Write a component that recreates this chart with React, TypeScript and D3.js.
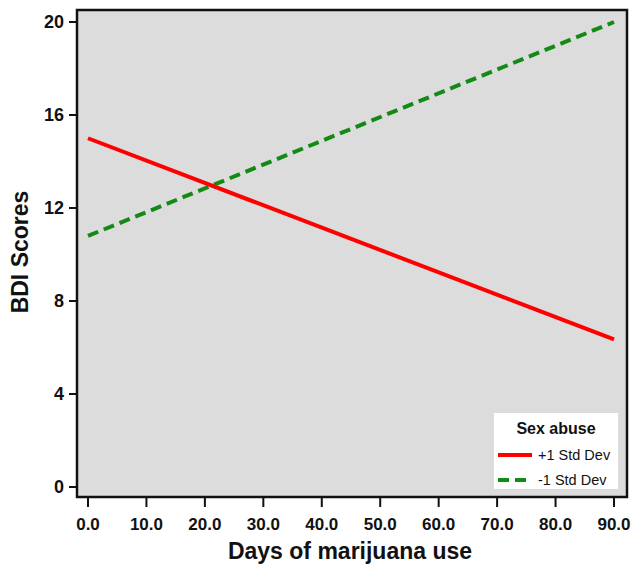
import React, { useRef, useEffect } from 'react';
import * as d3 from 'd3';

// days of marijuana use at the two ends of each fitted line
const days = [0, 90];
const plusOneSD = [15.0, 6.35];
const minusOneSD = [10.8, 20.0];
const seriesNames = ['+1 Std Dev', '-1 Std Dev'];
const xTicks = [0, 10, 20, 30, 40, 50, 60, 70, 80, 90];
const yTicks = [0, 4, 8, 12, 16, 20];

const App = () => {
  const ref = useRef<SVGSVGElement | null>(null);

  useEffect(() => {
    const svg = d3.select(ref.current);
    svg.selectAll('*').remove();
    const font = 'Liberation Sans, Arial, sans-serif';

    const x = d3.scaleLinear().domain([0, 90]).range([88, 614]);
    const y = d3.scaleLinear().domain([0, 20]).range([487, 22]);

    // plot area
    svg.append('rect')
      .attr('x', 77).attr('y', 10).attr('width', 550).attr('height', 487)
      .attr('fill', '#dcdcdc').attr('stroke', '#111').attr('stroke-width', 2.5);

    // y axis ticks + labels
    const yg = svg.append('g').attr('font-family', font);
    yTicks.forEach(t => {
      yg.append('line').attr('x1', 69).attr('x2', 77).attr('y1', y(t)).attr('y2', y(t))
        .attr('stroke', '#111').attr('stroke-width', 2);
      yg.append('text').attr('x', 64).attr('y', y(t)).attr('dy', '0.35em')
        .attr('text-anchor', 'end').attr('font-size', 18).attr('font-weight', 'bold')
        .attr('fill', '#111').text(t);
    });

    // x axis ticks + labels
    const xg = svg.append('g').attr('font-family', font);
    xTicks.forEach(t => {
      xg.append('line').attr('x1', x(t)).attr('x2', x(t)).attr('y1', 497).attr('y2', 507)
        .attr('stroke', '#111').attr('stroke-width', 2);
      xg.append('text').attr('x', x(t)).attr('y', 530)
        .attr('text-anchor', 'middle').attr('font-size', 17).attr('font-weight', 'bold')
        .attr('fill', '#111').text(d3.format('.1f')(t));
    });

    svg.append('text').attr('x', 350).attr('y', 559).attr('text-anchor', 'middle')
      .attr('font-family', font).attr('font-size', 23).attr('font-weight', 'bold')
      .attr('fill', '#111').text('Days of marijuana use');

    svg.append('text').attr('transform', 'translate(28,252) rotate(-90)')
      .attr('text-anchor', 'middle')
      .attr('font-family', font).attr('font-size', 23).attr('font-weight', 'bold')
      .attr('fill', '#111').text('BDI Scores');

    const line = d3.line<number>().x((d, i) => x(days[i])).y(d => y(d));

    svg.append('path').datum(minusOneSD).attr('d', line)
      .attr('fill', 'none').attr('stroke', '#138a13').attr('stroke-width', 4)
      .attr('stroke-dasharray', '11,6');
    svg.append('path').datum(plusOneSD).attr('d', line)
      .attr('fill', 'none').attr('stroke', '#ff0000').attr('stroke-width', 4);

    // legend
    const lg = svg.append('g').attr('font-family', font);
    lg.append('rect').attr('x', 494).attr('y', 413).attr('width', 124).attr('height', 76)
      .attr('fill', '#ffffff');
    lg.append('text').attr('x', 556).attr('y', 434).attr('text-anchor', 'middle')
      .attr('font-size', 16).attr('font-weight', 'bold').attr('fill', '#111').text('Sex abuse');
    const cols = ['#ff0000', '#138a13'];
    seriesNames.forEach((n, i) => {
      const ly = 455 + i * 25;
      lg.append('line').attr('x1', 498).attr('x2', 532).attr('y1', ly).attr('y2', ly)
        .attr('stroke', cols[i]).attr('stroke-width', 4)
        .attr('stroke-dasharray', i === 1 ? '11,6' : null);
      lg.append('text').attr('x', 538).attr('y', ly).attr('dy', '0.35em')
        .attr('font-size', 14.5).attr('fill', '#111').text(n);
    });
  }, []);

  return <svg ref={ref} width={634} height={566} style={{ position: 'absolute', left: 0, top: 0 }} />;
};

export default App;
